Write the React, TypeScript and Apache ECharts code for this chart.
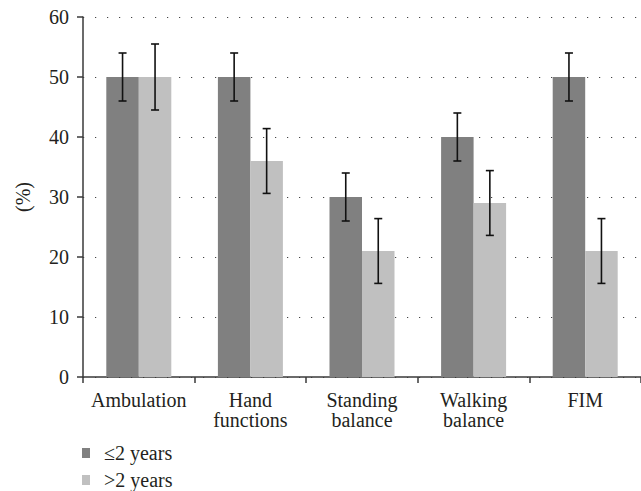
import React, { useEffect, useRef } from "react";
import * as echarts from "echarts";

const categories = ["Ambulation", "Hand\nfunctions", "Standing\nbalance", "Walking\nbalance", "FIM"];
const seriesNames = ["≤2 years", ">2 years"];
const shortValues = [50, 50, 30, 40, 50];
const shortErrors = [4, 4, 4, 4, 4];
const longValues = [50, 36, 21, 29, 21];
const longErrors = [5.5, 5.4, 5.4, 5.4, 5.4];
const yTicks = { min: 0, max: 60, interval: 10 };

const FONT = "Liberation Serif";
const FS = 20;
const BAR_W = 32.5;

function errorSeries(values: number[], errors: number[], side: number) {
  return {
    type: "custom",
    z: 5,
    silent: true,
    data: values.map((v, i) => [i, v - errors[i], v + errors[i]]),
    encode: { x: 0, y: [1, 2] },
    renderItem: (params: any, api: any) => {
      const idx = api.value(0);
      const lo = api.coord([idx, api.value(1)]);
      const hi = api.coord([idx, api.value(2)]);
      const x = lo[0] + (side * BAR_W) / 2;
      const cap = 4;
      const style = { stroke: "#111", lineWidth: 1.6 };
      return {
        type: "group",
        children: [
          { type: "line", shape: { x1: x, y1: lo[1], x2: x, y2: hi[1] }, style },
          { type: "line", shape: { x1: x - cap, y1: lo[1], x2: x + cap, y2: lo[1] }, style },
          { type: "line", shape: { x1: x - cap, y1: hi[1], x2: x + cap, y2: hi[1] }, style },
        ],
      };
    },
  };
}

export default function App() {
  const ref = useRef<HTMLDivElement>(null);
  useEffect(() => {
    if (!ref.current) return;
    const chart = echarts.init(ref.current, undefined, { renderer: "svg" });
    chart.setOption({
      animation: false,
      backgroundColor: "#fff",
      textStyle: { fontFamily: FONT },
      grid: { left: 83, top: 17, width: 561.5, height: 360, containLabel: false },
      legend: {
        data: seriesNames,
        orient: "vertical",
        left: 82,
        top: 443,
        padding: 0,
        height: 60,
        icon: "rect",
        itemWidth: 8,
        itemHeight: 10,
        itemGap: 7,
        textStyle: {
          fontFamily: FONT,
          fontSize: FS,
          lineHeight: 20,
          color: "#231f20",
          padding: [0, 0, 0, 9],
        },
      },
      xAxis: {
        type: "category",
        data: categories,
        axisLine: { lineStyle: { color: "#3a3a3a", width: 1.5 } },
        axisTick: { show: true, length: 6, lineStyle: { color: "#3a3a3a", width: 1.5 } },
        axisLabel: {
          fontFamily: FONT,
          fontSize: FS,
          lineHeight: 20,
          color: "#231f20",
          margin: 13,
          interval: 0,
        },
      },
      yAxis: {
        type: "value",
        min: yTicks.min,
        max: yTicks.max,
        interval: yTicks.interval,
        name: "(%)",
        nameLocation: "middle",
        nameGap: 50,
        nameTextStyle: { fontFamily: FONT, fontSize: FS, color: "#231f20" },
        axisLine: { show: true, lineStyle: { color: "#3a3a3a", width: 1.5 } },
        axisTick: { show: true, length: 6, lineStyle: { color: "#3a3a3a", width: 1.5 } },
        axisLabel: { fontFamily: FONT, fontSize: FS, color: "#231f20", margin: 14 },
        splitLine: { show: true, lineStyle: { color: "#444", width: 1.2, type: [1.2, 10.8] } },
      },
      series: [
        {
          name: seriesNames[0],
          type: "bar",
          data: shortValues,
          barWidth: BAR_W,
          barGap: "0%",
          itemStyle: { color: "#808080" },
          z: 2,
        },
        {
          name: seriesNames[1],
          type: "bar",
          data: longValues,
          barWidth: BAR_W,
          barGap: "0%",
          itemStyle: { color: "#c0c0c0" },
          z: 2,
        },
        errorSeries(shortValues, shortErrors, -1),
        errorSeries(longValues, longErrors, 1),
      ],
    });
    return () => chart.dispose();
  }, []);
  return (
    <div
      ref={ref}
      style={{ position: "fixed", left: 0, top: 0, width: 641, height: 491, background: "#fff" }}
    />
  );
}
